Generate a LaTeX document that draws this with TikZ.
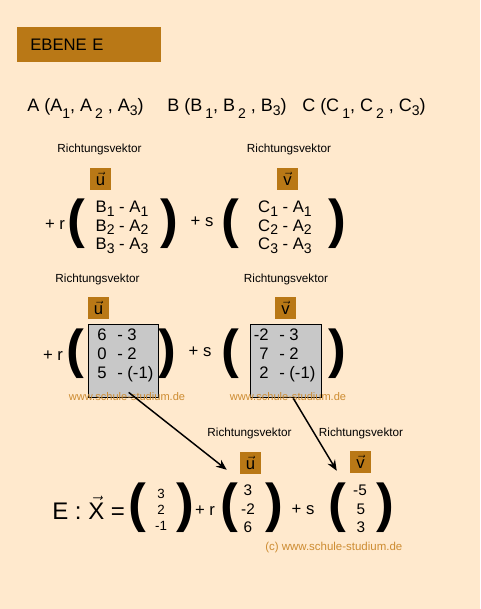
\documentclass[tikz,border=0pt]{standalone}
\usepackage{fontspec}
\setmainfont{Liberation Sans}
\usepackage{xcolor}
\definecolor{paper}{RGB}{255,233,205}
\definecolor{ochre}{RGB}{185,120,22}
\definecolor{panel}{RGB}{200,200,200}
\definecolor{mark}{RGB}{205,140,50}
\usetikzlibrary{arrows.meta}
\newcommand{\lowsub}[2][4pt]{\raisebox{-#1}{\fontsize{10.5}{11}\selectfont #2}}

\begin{document}
\begin{tikzpicture}[x=0.75pt,y=-0.75pt,
  rv/.style={font=\fontsize{8.8}{10}\selectfont},
  vecbox/.style={fill=ochre,minimum width=15.75pt,minimum height=16.5pt,
                 inner sep=0pt,font=\fontsize{12.5}{12}\selectfont},
  bigparen/.style={font=\fontsize{40}{40}\selectfont\bfseries,inner sep=0pt},
  ent/.style={font=\fontsize{12.5}{14}\selectfont,inner sep=0pt,anchor=base},
  small/.style={font=\fontsize{11.5}{12}\selectfont,inner sep=0pt,anchor=base},
  panelbox/.style={fill=panel,draw=black,line width=0.8pt,inner sep=0pt,
                   minimum width=53pt,minimum height=54.5pt,anchor=north west},
  wmark/.style={font=\fontsize{8.3}{10}\selectfont,text=mark,inner sep=0pt},
  pointer/.style={-{Stealth[length=8pt,width=6.5pt]},line width=1.1pt}]
  \fill[paper] (0,0) rectangle (480,609);
  %% title
  \node (title) [fill=ochre,anchor=north west,inner xsep=9.75pt,inner ysep=0pt,
    text width=88.5pt,minimum height=26.25pt,align=left,
    font=\fontsize{12.5}{14}\selectfont] at (17,27) {EBENE E};
  %% points
  \node (pA) [anchor=base west,inner sep=0pt,font=\fontsize{13.5}{15}\selectfont] at (27,112)
    {A (A\lowsub[5pt]{1}, A\,\lowsub[5pt]{2} , A\lowsub[3pt]{3})};
  \node (pB) [anchor=base west,inner sep=0pt,font=\fontsize{13.5}{15}\selectfont] at (167,112)
    {B (B\,\lowsub[5pt]{1}, B\,\lowsub[5pt]{2} , B\lowsub[3pt]{3})};
  \node (pC) [anchor=base west,inner sep=0pt,font=\fontsize{13.5}{15}\selectfont] at (302,112)
    {C (C\,\lowsub[5pt]{1}, C\,\lowsub[5pt]{2} , C\lowsub[3pt]{3})};
  %% first row: general form
  \node (rvU1) [rv] at (99.5,149) {Richtungsvektor};
  \node (rvV1) [rv] at (289,149) {Richtungsvektor};
  \node (u1) [vecbox] at (100.5,179) {$\vec{\hbox{u}}$};
  \node (v1) [vecbox] at (287.5,179) {$\vec{\hbox{v}}$};
  \node (r1) [ent] at (55,230) {+ r};
  \node (lpU1) [bigparen] at (76,224) {(};
  \node (bu1) [ent] at (122,213) {B\lowsub[2.5pt]{1} - A\lowsub[2.5pt]{1}};
  \node (bu2) [ent] at (122,231.5) {B\lowsub[2.5pt]{2} - A\lowsub[2.5pt]{2}};
  \node (bu3) [ent] at (122,250) {B\lowsub[2.5pt]{3} - A\lowsub[2.5pt]{3}};
  \node (rpU1) [bigparen] at (169,224) {)};
  \node (s1) [ent] at (202,227) {+ s};
  \node (lpV1) [bigparen] at (230.5,224) {(};
  \node (cv1) [ent] at (285,213) {C\lowsub[2.5pt]{1} - A\lowsub[2.5pt]{1}};
  \node (cv2) [ent] at (285,231.5) {C\lowsub[2.5pt]{2} - A\lowsub[2.5pt]{2}};
  \node (cv3) [ent] at (285,250) {C\lowsub[2.5pt]{3} - A\lowsub[2.5pt]{3}};
  \node (rpV1) [bigparen] at (337.5,224) {)};
  %% second row: numbers put in
  \node (rvU2) [rv] at (97.5,279) {Richtungsvektor};
  \node (rvV2) [rv] at (286,279) {Richtungsvektor};
  \node (u2) [vecbox] at (98.5,307.5) {$\vec{\hbox{u}}$};
  \node (v2) [vecbox] at (285.5,307.5) {$\vec{\hbox{v}}$};
  \node (gbU) [panelbox] at (87.5,324) {};
  \node (gbV) [panelbox] at (250,324) {};
  \node (r2) [ent] at (53,360) {+ r};
  \node (lpU2) [bigparen] at (75.5,353.5) {(};
  \node (rpU2) [bigparen] at (167.5,353.5) {)};
  \node (s2) [ent] at (200,356) {+ s};
  \node (lpV2) [bigparen] at (230.5,353.5) {(};
  \node (rpV2) [bigparen] at (337.5,353.5) {)};
  \foreach \a/\b/\c/\d/\y/\n in {6/- 3/-2/- 3/340/1, 0/- 2/7/- 2/359/2,
                                 5/- (-1)/2/- (-1)/378/3} {
    \node (nu\n) [ent,anchor=base east] at (107,\y) {\a};
    \node (mu\n) [ent,anchor=base west] at (117,\y) {\b};
    \node (nv\n) [ent,anchor=base east] at (269,\y) {\c};
    \node (mv\n) [ent,anchor=base west] at (279,\y) {\d};
  }
  \node (wmU) [wmark] at (127,397) {www.schule-studium.de};
  \node (wmV) [wmark] at (288,397) {www.schule-studium.de};
  %% third row: result
  \node (rvU3) [rv] at (249.5,433) {Richtungsvektor};
  \node (rvV3) [rv] at (361,433) {Richtungsvektor};
  \node (u3) [vecbox] at (250.5,462.5) {$\vec{\hbox{u}}$};
  \node (v3) [vecbox] at (360.5,461.5) {$\vec{\hbox{v}}$};
  \node (eqn) [anchor=base west,inner sep=0pt,font=\fontsize{18}{20}\selectfont]
    at (52,519) {E : $\vec{\hbox{X}}$ =};
  \node (lpX) [bigparen] at (137.5,508) {(};
  \node (x1) [small,font=\fontsize{10}{12}\selectfont] at (161,498) {3};
  \node (x2) [small,font=\fontsize{10}{12}\selectfont] at (161,514) {2};
  \node (x3) [small,font=\fontsize{10}{12}\selectfont] at (161,530) {-1};
  \node (rpX) [bigparen] at (185,508) {)};
  \node (r3) [ent] at (205,515) {+ r};
  \node (lpU3) [bigparen] at (229.5,508) {(};
  \node (uu1) [small] at (248,495) {3};
  \node (uu2) [small] at (248,514) {-2};
  \node (uu3) [small] at (248,532) {6};
  \node (rpU3) [bigparen] at (274.5,508) {)};
  \node (s3) [ent] at (303,514) {+ s};
  \node (lpV3) [bigparen] at (337.5,508) {(};
  \node (vv1) [small] at (360,495) {-5};
  \node (vv2) [small] at (361,514) {5};
  \node (vv3) [small] at (361,532) {3};
  \node (rpV3) [bigparen] at (385.5,508) {)};
  \node (copy) [wmark,anchor=west,font=\fontsize{8.6}{10}\selectfont] at (265,548)
    {(c) www.schule-studium.de};
  %% pointers
  \draw[pointer] ([xshift=4pt,yshift=4pt]gbU.south)
    -- ([xshift=-9.75pt,yshift=3pt]u3.south west);
  \draw[pointer] ([xshift=5.6pt,yshift=-0.5pt]gbV.south)
    -- ([xshift=-9.75pt,yshift=1.5pt]v3.south west);
\end{tikzpicture}
\end{document}
